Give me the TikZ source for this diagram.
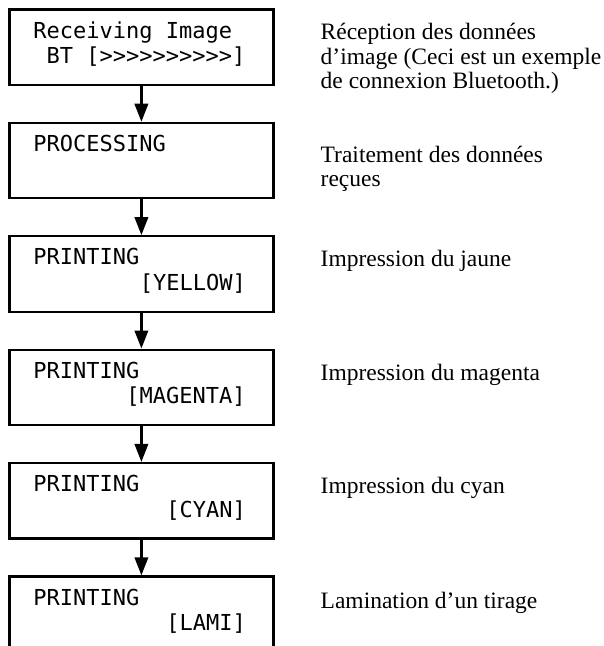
\documentclass[tikz,border=0pt]{standalone}
\usepackage{fontspec}
\setmainfont{Liberation Serif}
\setmonofont{DejaVu Sans Mono}
\usetikzlibrary{arrows.meta,positioning}

\newcommand{\lcdfont}{\ttfamily\fontsize{22}{25.5}\selectfont}
\newcommand{\notefont}{\fontsize{23.5}{24.3}\selectfont}
% blank cells of the display
\newcommand{\lcdskip}[1]{\hspace*{\dimexpr 13.3pt*#1\relax}}

\begin{document}
\begin{tikzpicture}[x=1pt, y=-1pt,
  node distance=35.7pt,
  lcd/.style={draw, line width=2.2pt, inner xsep=24pt, inner ysep=0pt,
              text width=216pt, text height=16pt, text depth=34pt,
              minimum height=75.5pt, align=left, font=\lcdfont},
  note/.style={anchor=base west, inner sep=0pt, align=left, font=\notefont},
  arr/.style={-{Triangle[length=18pt, width=13.5pt]}, line width=2.2pt}]
  \useasboundingbox (0,0) rectangle (604,646);
  \clip (0,0) rectangle (604,646);
  % printer display
  \node[lcd, anchor=north west] (rx) at (8.3,8.3)
    {Receiving\lcdskip{1}Image\\\lcdskip{1}BT\lcdskip{1}[>>>>>>>>>>]};
  \node[lcd, below=of rx] (proc) {PROCESSING};
  \node[lcd, below=of proc] (yel) {PRINTING\\\lcdskip{8}[YELLOW]};
  \node[lcd, below=of yel] (mag) {PRINTING\\\lcdskip{7}[MAGENTA]};
  \node[lcd, below=of mag] (cya) {PRINTING\\\lcdskip{10}[CYAN]};
  \node[lcd, below=of cya] (lami) {PRINTING\\\lcdskip{10}[LAMI]};
  \draw[arr] (rx) -- (proc);
  \draw[arr] (proc) -- (yel);
  \draw[arr] (yel) -- (mag);
  \draw[arr] (mag) -- (cya);
  \draw[arr] (cya) -- (lami);
  % explanations (base = last line)
  \node[note] (nrx) at ([xshift=46pt, yshift=-80pt]rx.north east)
    {Réception des données\\d’image (Ceci est un exemple\\de connexion Bluetooth.)};
  \node[note] (nproc) at ([xshift=46pt, yshift=-65pt]proc.north east)
    {Traitement des données\\reçues};
  \node[note] (nyel) at ([xshift=46pt, yshift=-31pt]yel.north east) {Impression du jaune};
  \node[note] (nmag) at ([xshift=46pt, yshift=-32pt]mag.north east) {Impression du magenta};
  \node[note] (ncya) at ([xshift=46pt, yshift=-32pt]cya.north east) {Impression du cyan};
  \node[note] (nlami) at ([xshift=46pt, yshift=-33pt]lami.north east) {Lamination d’un tirage};
\end{tikzpicture}
\end{document}
